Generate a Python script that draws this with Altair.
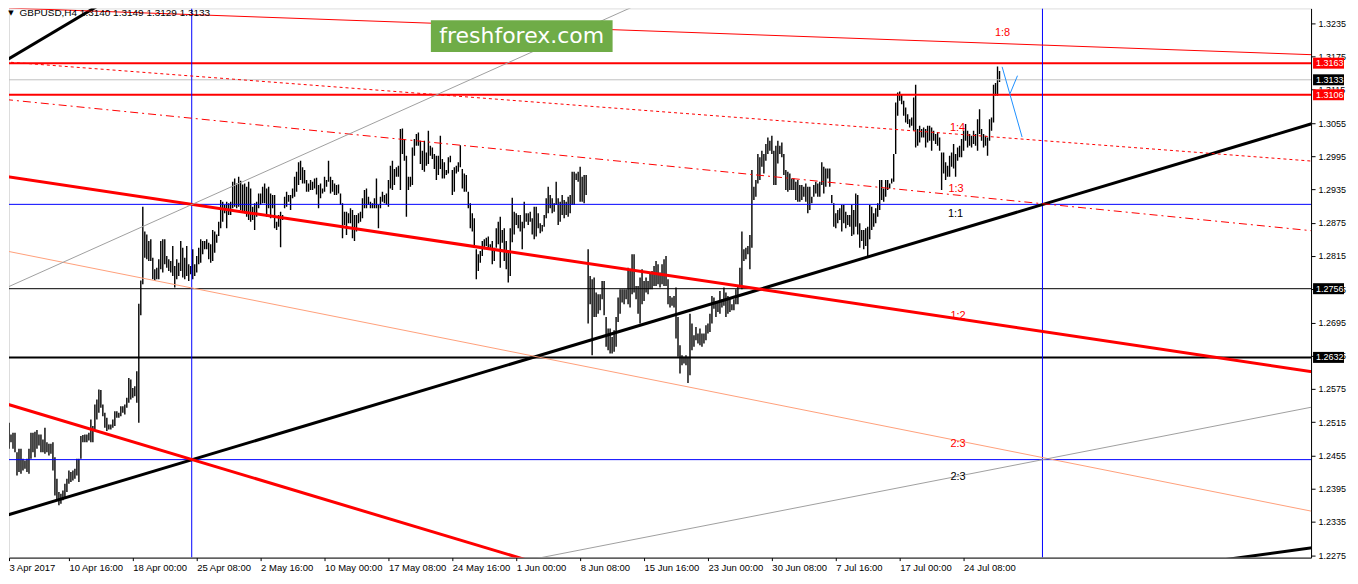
import altair as alt
import pandas as pd

# ---------------- data ----------------
SYMBOL = "GBPUSD,H4"
LAST_OHLC = [1.3140, 1.3149, 1.3129, 1.3133]

HIGH = [
    1.2553, 1.2529, 1.2514, 1.2493, 1.2496, 1.2496, 1.2461, 1.2467, 1.2467, 1.2449,
    1.2446, 1.2449, 1.2467, 1.2496, 1.2496, 1.2498, 1.2501, 1.2493, 1.2493, 1.2484,
    1.2505, 1.2479, 1.2476, 1.2476, 1.2479, 1.2452, 1.2413, 1.2389, 1.2386, 1.2392,
    1.2404, 1.2413, 1.2428, 1.2425, 1.2428, 1.2431, 1.2449, 1.2449, 1.2490, 1.2492,
    1.2493, 1.2493, 1.2496, 1.2520, 1.2508, 1.2547, 1.2556, 1.2574, 1.2573, 1.2547,
    1.2532, 1.2523, 1.2511, 1.2511, 1.2520, 1.2535, 1.2535, 1.2532, 1.2544, 1.2544,
    1.2547, 1.2559, 1.2595, 1.2592, 1.2577, 1.2580, 1.2607, 1.2729, 1.2771, 1.2904,
    1.2859, 1.2854, 1.2842, 1.2845, 1.2812, 1.2791, 1.2794, 1.2809, 1.2842, 1.2845,
    1.2845, 1.2815, 1.2809, 1.2806, 1.2833, 1.2797, 1.2809, 1.2803, 1.2842, 1.2830,
    1.2812, 1.2833, 1.2800, 1.2797, 1.2827, 1.2800, 1.2815, 1.2830, 1.2845, 1.2842,
    1.2842, 1.2845, 1.2839, 1.2836, 1.2862, 1.2859, 1.2854, 1.2877, 1.2916, 1.2913,
    1.2907, 1.2913, 1.2910, 1.2913, 1.2949, 1.2955, 1.2946, 1.2958, 1.2951, 1.2944,
    1.2946, 1.2940, 1.2949, 1.2937,
    1.2904, 1.2910, 1.2913, 1.2928, 1.2928, 1.2940, 1.2946, 1.2937, 1.2940, 1.2928,
    1.2925, 1.2925, 1.2877, 1.2889, 1.2895, 1.2889, 1.2922, 1.2931, 1.2925, 1.2925,
    1.2937, 1.2958, 1.2967, 1.2984, 1.2987, 1.2975, 1.2970, 1.2952, 1.2946, 1.2952,
    1.2949, 1.2955, 1.2956, 1.2943, 1.2946, 1.2937, 1.2958, 1.2952, 1.2987, 1.2958,
    1.2952, 1.2946, 1.2943, 1.2944, 1.2928, 1.2910, 1.2895, 1.2895, 1.2892, 1.2901,
    1.2898, 1.2889, 1.2889, 1.2892, 1.2895, 1.2919, 1.2934, 1.2937, 1.2922, 1.2913,
    1.2910, 1.2919, 1.2955, 1.2907, 1.2922, 1.2931, 1.2925, 1.2928, 1.2952, 1.2978,
    1.2987, 1.2972, 1.2975, 1.2978, 1.3044, 1.3045, 1.3026, 1.2996, 1.2958, 1.2958,
    1.3011, 1.3026, 1.3035, 1.3038, 1.3023, 1.3005, 1.3023, 1.3002, 1.3041, 1.3014,
    1.3011, 1.2999, 1.2996, 1.2996, 1.3032, 1.2990, 1.2984, 1.2970, 1.2993, 1.2996,
    1.2970, 1.2975, 1.2978, 1.2984, 1.3015, 1.2972, 1.2964, 1.2961, 1.2931, 1.2910,
    1.2892, 1.2883, 1.2827, 1.2818, 1.2824, 1.2842, 1.2845, 1.2848, 1.2850, 1.2836,
    1.2842, 1.2830, 1.2865, 1.2877, 1.2886,
    1.2862, 1.2865, 1.2842, 1.2824, 1.2865, 1.2920, 1.2895, 1.2892, 1.2889, 1.2889,
    1.2877, 1.2913, 1.2892, 1.2892, 1.2895, 1.2883, 1.2904, 1.2904, 1.2892, 1.2874,
    1.2871, 1.2889, 1.2919, 1.2940, 1.2925, 1.2919, 1.2910, 1.2949, 1.2919, 1.2913,
    1.2925, 1.2916, 1.2913, 1.2922, 1.2925, 1.2967, 1.2967, 1.2964, 1.2967, 1.2976,
    1.2958, 1.2961, 1.2961, 1.2827, 1.2779, 1.2773, 1.2776, 1.2749, 1.2746, 1.2746,
    1.2770, 1.2770, 1.2705, 1.2684, 1.2684, 1.2669, 1.2681, 1.2705, 1.2740, 1.2755,
    1.2755, 1.2755, 1.2755, 1.2794, 1.2788, 1.2818, 1.2818, 1.2761, 1.2761, 1.2776,
    1.2791, 1.2770, 1.2776, 1.2770, 1.2785, 1.2788, 1.2797, 1.2806, 1.2800, 1.2785,
    1.2800, 1.2809, 1.2815, 1.2773, 1.2743, 1.2740, 1.2743, 1.2758, 1.2705, 1.2654,
    1.2636, 1.2633, 1.2636, 1.2633, 1.2711, 1.2693, 1.2672, 1.2687, 1.2675, 1.2684,
    1.2675, 1.2675, 1.2690, 1.2693, 1.2711, 1.2743, 1.2740, 1.2734, 1.2731, 1.2752,
    1.2737, 1.2758, 1.2749, 1.2743, 1.2737, 1.2728, 1.2737, 1.2755, 1.2761, 1.2794,
    1.2859, 1.2827, 1.2830, 1.2833, 1.2853,
    1.2970, 1.2940, 1.2952, 1.2999, 1.2993, 1.3005, 1.2999, 1.3017, 1.3029, 1.3023,
    1.3032, 1.3005, 1.3014, 1.3023, 1.3014, 1.3020, 1.2999, 1.2970, 1.2967, 1.2964,
    1.2955, 1.2955, 1.2949, 1.2952, 1.2943, 1.2943, 1.2940, 1.2946, 1.2940, 1.2940,
    1.2922, 1.2943, 1.2949, 1.2946, 1.2949, 1.2984, 1.2976, 1.2973, 1.2973, 1.2973,
    1.2925, 1.2910, 1.2892, 1.2898, 1.2901, 1.2907, 1.2907, 1.2895, 1.2889, 1.2889,
    1.2907, 1.2898, 1.2928, 1.2925, 1.2874, 1.2862, 1.2862, 1.2865, 1.2868, 1.2907,
    1.2904, 1.2892, 1.2901, 1.2910, 1.2952, 1.2952, 1.2937, 1.2952, 1.2952, 1.2946,
    1.2955, 1.2999, 1.3092, 1.3110, 1.3112, 1.3107, 1.3095, 1.3083, 1.3071, 1.3062,
    1.3065, 1.3101, 1.3124, 1.3044, 1.3050, 1.3044, 1.3047, 1.3044, 1.3050, 1.3050,
    1.3047, 1.3041, 1.3035, 1.3038, 1.3029, 1.3002, 1.3002, 1.2984, 1.2978, 1.2996,
    1.3002, 1.3017, 1.2999, 1.3011, 1.3014, 1.3026, 1.3041, 1.3053, 1.3041, 1.3035,
    1.3032, 1.3041, 1.3035, 1.3062, 1.3080, 1.3044, 1.3035, 1.3032, 1.3029, 1.3062,
    1.3065, 1.3124, 1.3127, 1.3157, 1.3149,
]

LOW = [
    1.2505, 1.2484, 1.2467, 1.2479, 1.2467, 1.2461, 1.2419, 1.2425, 1.2422, 1.2428,
    1.2431, 1.2425, 1.2422, 1.2449, 1.2461, 1.2452, 1.2467, 1.2473, 1.2461, 1.2461,
    1.2458, 1.2461, 1.2455, 1.2458, 1.2428, 1.2383, 1.2374, 1.2365, 1.2368, 1.2374,
    1.2380, 1.2389, 1.2404, 1.2407, 1.2410, 1.2413, 1.2419, 1.2407, 1.2449, 1.2479,
    1.2479, 1.2479, 1.2482, 1.2479, 1.2479, 1.2502, 1.2520, 1.2532, 1.2541, 1.2526,
    1.2505, 1.2499, 1.2502, 1.2502, 1.2505, 1.2508, 1.2523, 1.2523, 1.2526, 1.2532,
    1.2529, 1.2541, 1.2550, 1.2556, 1.2559, 1.2562, 1.2550, 1.2514, 1.2708, 1.2764,
    1.2812, 1.2809, 1.2806, 1.2806, 1.2773, 1.2770, 1.2773, 1.2773, 1.2791, 1.2785,
    1.2800, 1.2794, 1.2788, 1.2785, 1.2779, 1.2758, 1.2773, 1.2779, 1.2788, 1.2776,
    1.2773, 1.2779, 1.2770, 1.2782, 1.2773, 1.2779, 1.2785, 1.2800, 1.2803, 1.2818,
    1.2827, 1.2827, 1.2809, 1.2803, 1.2806, 1.2821, 1.2839, 1.2851, 1.2865, 1.2877,
    1.2892, 1.2865, 1.2889, 1.2889, 1.2901, 1.2904, 1.2901, 1.2904, 1.2898, 1.2895,
    1.2892, 1.2886, 1.2880, 1.2877,
    1.2880, 1.2862, 1.2886, 1.2901, 1.2907, 1.2910, 1.2910, 1.2886, 1.2901, 1.2883,
    1.2901, 1.2865, 1.2862, 1.2868, 1.2831, 1.2880, 1.2901, 1.2904, 1.2913, 1.2898,
    1.2919, 1.2922, 1.2931, 1.2943, 1.2952, 1.2946, 1.2946, 1.2931, 1.2931, 1.2934,
    1.2934, 1.2937, 1.2926, 1.2901, 1.2919, 1.2928, 1.2931, 1.2940, 1.2949, 1.2928,
    1.2931, 1.2925, 1.2925, 1.2928, 1.2907, 1.2847, 1.2871, 1.2853, 1.2874, 1.2874,
    1.2847, 1.2842, 1.2859, 1.2874, 1.2877, 1.2883, 1.2901, 1.2901, 1.2907, 1.2901,
    1.2901, 1.2901, 1.2901, 1.2865, 1.2901, 1.2913, 1.2910, 1.2907, 1.2904, 1.2937,
    1.2934, 1.2943, 1.2958, 1.2958, 1.2934, 1.2999, 1.2987, 1.2886, 1.2934, 1.2940,
    1.2943, 1.2996, 1.3014, 1.3014, 1.2981, 1.2970, 1.2967, 1.2978, 1.2981, 1.2996,
    1.2990, 1.2972, 1.2952, 1.2961, 1.2972, 1.2955, 1.2955, 1.2961, 1.2964, 1.2984,
    1.2925, 1.2931, 1.2964, 1.2967, 1.2975, 1.2937, 1.2931, 1.2931, 1.2901, 1.2865,
    1.2859, 1.2830, 1.2773, 1.2788, 1.2803, 1.2815, 1.2827, 1.2833, 1.2827, 1.2830,
    1.2800, 1.2806, 1.2830, 1.2836, 1.2794,
    1.2839, 1.2806, 1.2791, 1.2767, 1.2779, 1.2840, 1.2854, 1.2871, 1.2865, 1.2859,
    1.2827, 1.2865, 1.2877, 1.2871, 1.2877, 1.2854, 1.2845, 1.2850, 1.2865, 1.2856,
    1.2859, 1.2868, 1.2883, 1.2892, 1.2901, 1.2892, 1.2895, 1.2907, 1.2871, 1.2877,
    1.2889, 1.2883, 1.2889, 1.2886, 1.2892, 1.2907, 1.2907, 1.2952, 1.2949, 1.2913,
    1.2913, 1.2910, 1.2925, 1.2693, 1.2728, 1.2636, 1.2705, 1.2705, 1.2711, 1.2717,
    1.2737, 1.2708, 1.2651, 1.2645, 1.2639, 1.2639, 1.2642, 1.2651, 1.2696, 1.2711,
    1.2731, 1.2728, 1.2737, 1.2728, 1.2722, 1.2746, 1.2749, 1.2737, 1.2711, 1.2693,
    1.2728, 1.2734, 1.2749, 1.2746, 1.2755, 1.2755, 1.2761, 1.2761, 1.2764, 1.2758,
    1.2764, 1.2761, 1.2761, 1.2728, 1.2722, 1.2725, 1.2722, 1.2666, 1.2633, 1.2603,
    1.2618, 1.2621, 1.2618, 1.2586, 1.2600, 1.2645, 1.2651, 1.2663, 1.2657, 1.2654,
    1.2651, 1.2657, 1.2663, 1.2675, 1.2678, 1.2693, 1.2720, 1.2705, 1.2714, 1.2711,
    1.2722, 1.2725, 1.2705, 1.2711, 1.2714, 1.2717, 1.2717, 1.2728, 1.2728, 1.2758,
    1.2755, 1.2806, 1.2809, 1.2818, 1.2791,
    1.2830, 1.2916, 1.2922, 1.2946, 1.2952, 1.2976, 1.2964, 1.2987, 1.2999, 1.3005,
    1.2999, 1.2943, 1.2943, 1.2982, 1.2999, 1.2993, 1.2961, 1.2934, 1.2931, 1.2934,
    1.2934, 1.2934, 1.2916, 1.2913, 1.2913, 1.2916, 1.2922, 1.2913, 1.2892, 1.2898,
    1.2910, 1.2922, 1.2928, 1.2922, 1.2922, 1.2943, 1.2928, 1.2940, 1.2955, 1.2940,
    1.2910, 1.2868, 1.2865, 1.2874, 1.2880, 1.2859, 1.2874, 1.2865, 1.2871, 1.2868,
    1.2851, 1.2854, 1.2868, 1.2854, 1.2830, 1.2842, 1.2827, 1.2833, 1.2815, 1.2845,
    1.2862, 1.2868, 1.2874, 1.2886, 1.2898, 1.2916, 1.2913, 1.2922, 1.2934, 1.2937,
    1.2946, 1.2949, 1.2999, 1.3068, 1.3095, 1.3089, 1.3068, 1.3056, 1.3053, 1.3047,
    1.3050, 1.3041, 1.3011, 1.3014, 1.3020, 1.3029, 1.3029, 1.3011, 1.3020, 1.3023,
    1.3005, 1.3023, 1.3017, 1.3014, 1.3005, 1.2934, 1.2964, 1.2952, 1.2958, 1.2958,
    1.2976, 1.2973, 1.2958, 1.2987, 1.2993, 1.2993, 1.3005, 1.3023, 1.3011, 1.3014,
    1.3011, 1.3017, 1.3014, 1.3005, 1.3035, 1.3023, 1.3011, 1.3014, 1.2996, 1.3023,
    1.3041, 1.3056, 1.3104, 1.3104, 1.3129,
]
BAR = list(range(len(HIGH)))

X_TICKS = [2.0] + [32 * i for i in range(1, 16)]
X_LABELS = ["3 Apr 2017", "10 Apr 16:00", "18 Apr 00:00", "25 Apr 08:00", "2 May 16:00",
            "10 May 00:00", "17 May 08:00", "24 May 16:00", "1 Jun 00:00", "8 Jun 08:00",
            "15 Jun 16:00", "23 Jun 00:00", "30 Jun 08:00", "7 Jul 16:00", "17 Jul 00:00",
            "24 Jul 08:00"]
Y_TICKS = [round(1.2275 + 0.006 * i, 4) for i in range(17)]

# horizontal levels
LEVELS = [1.3163, 1.3133, 1.3106, 1.29082, 1.2756, 1.2632, 1.24475]
# vertical time lines (bar index)
VLINES = [93.5, 519.5]
# price tags on the right axis
TAG_PRICE = [1.3163, 1.3133, 1.3106, 1.2756, 1.2632]
TAG_TEXT = ["1.3163", "1.3133", "1.3106", "1.2756", "1.2632"]

# trend / fan lines: (bar1, price1, bar2, price2)
LINE_X1 = [0, 0, 600, 0, 0, 0, 0, 0, 0, 0, 250, 499.3, 503.3]
LINE_Y1 = [1.23461, 1.31668, 1.22617, 1.29587, 1.25489, 1.32627, 1.31654, 1.30975,
           1.28245, 1.27567, 1.22577, 1.31564, 1.31082]
LINE_X2 = [657.25, 60, 657.25, 657.25, 300, 657.25, 657.25, 657.25, 657.25, 400,
           657.25, 509.3, 507.0]
LINE_Y2 = [1.30569, 1.32954, 1.22897, 1.26046, 1.22244, 1.31779, 1.29855, 1.28595,
           1.23523, 1.34031, 1.25443, 1.30296, 1.31404]

# Gann labels
GANN_TEXT = ["1:8", "1:4", "1:3", "1:1", "1:2", "2:3", "2:3"]
GANN_BAR = [499.5, 477.0, 476.25, 476.0, 477.25, 477.25, 477.25]
GANN_PRICE = [1.32171, 1.30457, 1.29368, 1.28904, 1.27064, 1.24761, 1.24154]

# ---------------- styles ----------------
LINE_STYLE = [
    dict(color="black", strokeWidth=3),
    dict(color="black", strokeWidth=3),
    dict(color="black", strokeWidth=3),
    dict(color="#ff0000", strokeWidth=3),
    dict(color="#ff0000", strokeWidth=3),
    dict(color="#ff0000", strokeWidth=1),
    dict(color="#ff0000", strokeWidth=1, strokeDash=[3, 3]),
    dict(color="#ff0000", strokeWidth=1, strokeDash=[8, 4, 2, 4]),
    dict(color="#ffa07a", strokeWidth=1),
    dict(color="#a0a0a0", strokeWidth=1),
    dict(color="#a0a0a0", strokeWidth=1),
    dict(color="#1e90ff", strokeWidth=1),
    dict(color="#1e90ff", strokeWidth=1),
]
LEVEL_STYLE = [
    dict(color="#ff0000", strokeWidth=2),
    dict(color="#c0c0c0", strokeWidth=1),
    dict(color="#ff0000", strokeWidth=2),
    dict(color="#0000ff", strokeWidth=1),
    dict(color="black", strokeWidth=1),
    dict(color="black", strokeWidth=2),
    dict(color="#0000ff", strokeWidth=1),
]
TAG_BG = ["#ff0000", "black", "#ff0000", "black", "black"]
GANN_COLOR = ["#ff0000", "#ff0000", "#ff0000", "black", "#ff0000", "#ff0000", "black"]

W, H = 1304, 550
FONT = "Liberation Sans"
xs = alt.Scale(domain=[2.0, 2.0 + W / 2], nice=False, zero=False)
ys = alt.Scale(domain=[1.22707, 1.32618], nice=False, zero=False)

label_expr = "[" + ",".join("'%s'" % l for l in X_LABELS) + "][round(datum.value/32)]"
x_axis = alt.Axis(values=X_TICKS, labelExpr=label_expr, orient="bottom", title=None,
                  grid=False, tickSize=3, labelPadding=2, domainColor="black",
                  tickColor="black", labelColor="black", labelFont=FONT,
                  labelFontSize=9.5, labelAlign="left", labelFlush=False,
                  labelOverlap=False, zindex=0)
y_axis = alt.Axis(values=Y_TICKS, format=".4f", orient="right", title=None, grid=False,
                  tickSize=4, labelPadding=3, domainColor="black", tickColor="black",
                  labelColor="black", labelFont=FONT, labelFontSize=9,
                  labelFlush=False, labelOverlap=False, zindex=0)


def X(f):
    return alt.X(f, type="quantitative", scale=xs, axis=x_axis)


def Y(f):
    return alt.Y(f, type="quantitative", scale=ys, axis=y_axis)


layers = []

bars = pd.DataFrame({"k": BAR, "hi": HIGH, "lo": LOW})
layers.append(alt.Chart(bars).mark_rule(color="black", strokeWidth=1.4, clip=True)
              .encode(x=X("k"), y=Y("lo"), y2=alt.Y2("hi")))

for p, st in zip(LEVELS, LEVEL_STYLE):
    layers.append(alt.Chart(pd.DataFrame({"p": [p]})).mark_rule(clip=True, **st)
                  .encode(y=Y("p")))

for k in VLINES:
    layers.append(alt.Chart(pd.DataFrame({"k": [k]}))
                  .mark_rule(color="#0000ff", strokeWidth=1, clip=True)
                  .encode(x=X("k")))

for i, st in enumerate(LINE_STYLE):
    d = pd.DataFrame({"x1": [LINE_X1[i]], "y1": [LINE_Y1[i]],
                      "x2": [LINE_X2[i]], "y2": [LINE_Y2[i]]})
    layers.append(alt.Chart(d).mark_rule(clip=True, **st)
                  .encode(x=X("x1"), y=Y("y1"), x2=alt.X2("x2"), y2=alt.Y2("y2")))

gann = pd.DataFrame({"k": GANN_BAR, "p": GANN_PRICE, "t": GANN_TEXT, "c": GANN_COLOR})
layers.append(alt.Chart(gann).mark_text(font=FONT, fontSize=11, baseline="middle")
              .encode(x=X("k"), y=Y("p"), text="t:N", color=alt.Color("c:N", scale=None)))

# watermark
wm = pd.DataFrame({"x1": [213.25], "x2": [304.25], "y1": [1.32404], "y2": [1.31832],
                   "xm": [258.75], "ym": [1.32118], "t": ["freshforex.com"]})
layers.append(alt.Chart(wm).mark_rect(color="#6fac47")
              .encode(x=X("x1"), x2=alt.X2("x2"), y=Y("y1"), y2=alt.Y2("y2")))
layers.append(alt.Chart(wm).mark_text(color="white", font="DejaVu Sans", fontSize=22,
                                      baseline="middle")
              .encode(x=X("xm"), y=Y("ym"), text="t:N"))

# header
hdr_text = SYMBOL + "  " + " ".join("%.4f" % v for v in LAST_OHLC)
hdr = pd.DataFrame({"k": [7.25], "p": [1.32527], "t": [hdr_text]})
layers.append(alt.Chart(hdr).mark_text(font=FONT, fontSize=10, align="left",
                                       baseline="middle", color="black")
              .encode(x=X("k"), y=Y("p"), text="t:N"))
tri = pd.DataFrame({"k": [3.0], "p": [1.32527], "t": ["\u25BC"]})
layers.append(alt.Chart(tri).mark_text(font="DejaVu Sans", fontSize=7, baseline="middle",
                                       color="black")
              .encode(x=X("k"), y=Y("p"), text="t:N"))

# price tags on the axis
tags = pd.DataFrame({"p": TAG_PRICE, "t": TAG_TEXT, "bg": TAG_BG})
layers.append(alt.Chart(tags).mark_rule(strokeWidth=11)
              .encode(x=alt.value(W + 2), x2=alt.value(W + 33), y=Y("p"),
                      color=alt.Color("bg:N", scale=None)))
layers.append(alt.Chart(tags).mark_text(color="white", font=FONT, fontSize=9,
                                        align="left", baseline="middle")
              .encode(x=alt.value(W + 5), y=Y("p"), text="t:N"))

chart = (alt.layer(*layers)
         .properties(width=W, height=H, padding=0)
         .configure_view(stroke="black", strokeWidth=1)
         .configure(background="white"))

chart.save("out.html", embed_options={"renderer": "svg", "actions": False})
